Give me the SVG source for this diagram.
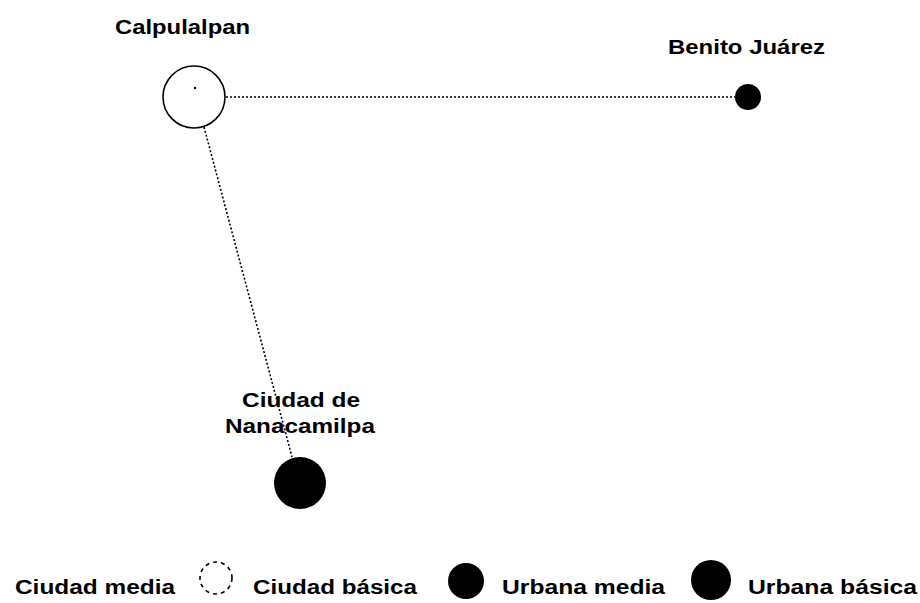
<svg xmlns="http://www.w3.org/2000/svg" width="920" height="603" viewBox="0 0 920 603">
<style>
text{font-family:"Liberation Sans",Arial,sans-serif;font-size:20px;font-weight:bold;fill:#000}
.edge{stroke:#000;stroke-width:1.6;stroke-dasharray:2 2;fill:none}
.media{fill:#fff;stroke:#000;stroke-width:1.6}
.solid{fill:#000}
</style>
<rect width="920" height="603" fill="#fff"/>
<g id="connectors">
<line class="edge" x1="226" y1="97" x2="735" y2="97"/>
<line class="edge" x1="204" y1="127" x2="292" y2="457"/>
</g>
<g id="calpulalpan">
<circle class="media" cx="194" cy="97" r="31"/>
<circle cx="195" cy="88" r="1.2" fill="#000"/>
<text x="182.5" y="34" text-anchor="middle" textLength="135" lengthAdjust="spacingAndGlyphs">Calpulalpan</text>
</g>
<g id="benito-juarez">
<circle class="solid" cx="748" cy="97" r="13"/>
<text x="746.5" y="54" text-anchor="middle" textLength="157" lengthAdjust="spacingAndGlyphs">Benito Juárez</text>
</g>
<g id="nanacamilpa">
<circle class="solid" cx="300" cy="483" r="26"/>
<text x="301" y="407" text-anchor="middle" textLength="118" lengthAdjust="spacingAndGlyphs">Ciudad de</text>
<text x="300" y="433" text-anchor="middle" textLength="150" lengthAdjust="spacingAndGlyphs">Nanacamilpa</text>
</g>
<g id="legend">
<text x="15" y="594" textLength="160" lengthAdjust="spacingAndGlyphs">Ciudad media</text>
<circle cx="216" cy="578" r="16" fill="#fff" stroke="#000" stroke-width="1.6" stroke-dasharray="4 4"/>
<text x="253" y="594" textLength="164" lengthAdjust="spacingAndGlyphs">Ciudad básica</text>
<circle class="solid" cx="466" cy="581" r="18"/>
<text x="502" y="594" textLength="163" lengthAdjust="spacingAndGlyphs">Urbana media</text>
<circle class="solid" cx="711" cy="580" r="20"/>
<text x="748" y="594" textLength="169" lengthAdjust="spacingAndGlyphs">Urbana básica</text>
</g>
</svg>
